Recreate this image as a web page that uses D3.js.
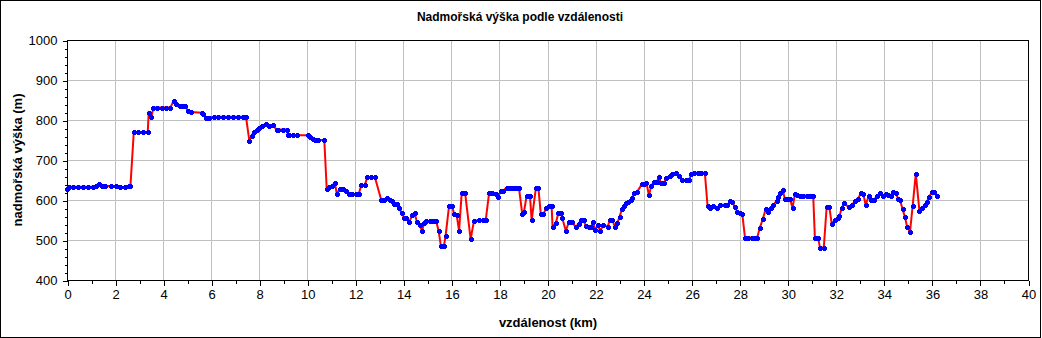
<!DOCTYPE html>
<html>
<head>
<meta charset="utf-8">
<script src="https://cdn.jsdelivr.net/npm/d3@7"></script>
<style>
  html, body { margin: 0; padding: 0; background: #fff; }
  svg { display: block; }
  text { font-family: "Liberation Sans", Arial, sans-serif; fill: #000; }
</style>
</head>
<body>
<svg id="chart" width="1042" height="338"></svg>
<script>
// Elevation profile: distance along the route (km) and elevation (m)
const distanceKm = [
  0, 0.07, 0.25, 0.44, 0.65, 0.86, 1.07, 1.2, 1.32, 1.44, 1.6, 1.85, 2.05, 2.22, 2.4, 2.57, 2.64,
  2.78, 2.96, 3.15, 3.36, 3.4, 3.51, 3.6, 3.75, 3.95, 4.13, 4.3, 4.44, 4.55, 4.72, 4.8, 4.9, 5.04, 5.16,
  5.6, 5.67, 5.79, 5.92, 6.12, 6.3, 6.51, 6.72, 6.93, 7.13, 7.34, 7.45, 7.59, 7.69, 7.78, 7.9, 7.99,
  8.1, 8.28, 8.39, 8.56, 8.73, 8.8, 9.0, 9.14, 9.21, 9.25, 9.42, 9.59, 10.05, 10.11, 10.23, 10.32,
  10.46, 10.71,
  10.81, 10.92, 11.03, 11.15, 11.23, 11.35, 11.49, 11.6, 11.72, 11.87, 12.02, 12.14, 12.25, 12.39,
  12.5, 12.64, 12.81, 13.08, 13.2, 13.32, 13.43, 13.53, 13.61, 13.75, 13.82, 13.94, 14.03, 14.12,
  14.24, 14.37, 14.47, 14.57, 14.68, 14.78, 14.86, 14.96, 15.1, 15.23, 15.37, 15.47, 15.56, 15.69,
  15.76, 15.9, 16.03,
  16.11, 16.22, 16.32, 16.43, 16.57, 16.8, 16.94, 17.15, 17.3, 17.43, 17.57, 17.7, 17.84, 17.93,
  18.06, 18.13, 18.3, 18.44, 18.58, 18.69, 18.81, 18.95, 19.02, 19.13, 19.27, 19.34, 19.52, 19.62,
  19.72, 19.83, 19.95, 20.08, 20.17, 20.21, 20.35, 20.45, 20.55, 20.62, 20.76, 20.9, 21.0, 21.17,
  21.3, 21.38, 21.5, 21.59, 21.72, 21.8, 21.91, 21.98, 22.1, 22.19, 22.33, 22.5, 22.6, 22.7, 22.81,
  22.91, 23.0, 23.1, 23.2, 23.28, 23.37, 23.46, 23.53,
  23.6, 23.74, 23.92, 24.02, 24.12, 24.22, 24.32, 24.43, 24.55, 24.64, 24.71, 24.85, 24.94, 25.09,
  25.2, 25.33, 25.47, 25.61, 25.75, 25.89, 25.99, 26.1, 26.26, 26.37, 26.55,
  26.66, 26.76, 26.9, 27.04, 27.2, 27.38, 27.49, 27.6, 27.7, 27.8, 27.9, 28.01, 28.11, 28.22, 28.36,
  28.5, 28.64, 28.73, 28.84, 28.96, 29.08, 29.16, 29.29, 29.4, 29.54, 29.6, 29.68, 29.79, 29.88,
  29.99, 30.09, 30.2, 30.3, 30.4, 30.51, 30.65, 30.79, 30.93, 31.06, 31.13, 31.27, 31.34, 31.5,
  31.62, 31.73, 31.83, 31.97, 32.08, 32.15, 32.25, 32.36, 32.53, 32.67, 32.81, 32.92, 33.04, 33.15,
  33.24, 33.38, 33.47, 33.59, 33.7, 33.84, 33.95, 34.07, 34.18, 34.29, 34.39, 34.5, 34.6, 34.67,
  34.78, 34.88, 34.97, 35.09, 35.2, 35.33, 35.48, 35.58, 35.7, 35.8, 35.88, 36.0, 36.1, 36.23
];
const elevationM = [
  627, 633, 633, 633, 633, 633, 633, 636, 640, 635, 635, 635, 635, 632, 632, 635, 635,
  770, 770, 770, 770, 817, 808, 831, 831, 831, 831, 831, 848, 840, 836, 836, 836, 823, 820,
  818, 814, 806, 806, 808, 808, 808, 808, 808, 808, 808, 808, 748, 761, 771, 775, 781,
  785, 790, 786, 787, 776, 776, 776, 776, 762, 762, 762, 762, 762, 758, 752, 750,
  750, 750,
  628, 632, 636, 643, 615, 628, 628, 623, 614, 614, 614, 615, 637, 637,
  657, 657, 658, 600, 600, 606, 600, 598, 589, 589, 581, 567, 556, 555,
  544, 562, 567, 544, 537, 522, 543, 547, 547, 547, 547, 522, 486, 486,
  511, 584, 585,
  565, 562, 523, 618, 618, 502, 548, 550, 550, 550, 618, 618, 614, 608,
  622, 622, 631, 631, 631, 631, 631, 565, 570, 610, 610, 550, 631, 631,
  565, 565, 579, 586, 586, 533, 543, 567, 567, 554, 523, 546, 546, 533,
  540, 550, 550, 535, 533, 533, 544, 525, 537, 523, 537, 533, 550, 550, 532,
  543, 558, 578, 584, 592, 594, 600, 604,
  618, 621, 639, 641, 643, 612, 635, 646, 646, 658, 643, 643, 654, 661,
  664, 667, 660, 650, 650, 650, 665, 668, 668, 668, 668,
  586, 581, 586, 580, 588, 588, 588, 597, 594, 582, 571, 567, 564, 506, 506,
  506, 506, 506, 531, 552, 577, 571, 579, 588, 598, 608, 617, 626, 602,
  602, 602, 581, 615, 612, 611, 611, 611, 611, 611, 504, 504, 481, 481,
  583, 583, 540, 550, 555, 559, 581, 592, 582, 588, 598, 602, 617, 614,
  588, 611, 601, 601, 609, 617, 611, 615, 613, 611, 621, 617, 602, 600,
  577, 557, 532, 521, 586, 666, 573, 579, 588, 596, 608, 619, 621, 611
];

// Axis ticks
const xTickValues = [0, 2, 4, 6, 8, 10, 12, 14, 16, 18, 20, 22, 24, 26, 28, 30, 32, 34, 36, 38, 40];
const yTickValues = [400, 500, 600, 700, 800, 900, 1000];

const titleText = "Nadmořská výška podle vzdálenosti";
const xLabelText = "vzdálenost (km)";
const yLabelText = "nadmořská výška (m)";

const W = 1042, H = 338;
const plot = { left: 67, right: 1028, top: 40, bottom: 280 };

const svg = d3.select("#chart");

// Outer frame
svg.append("rect")
  .attr("x", 0.5).attr("y", 0.5)
  .attr("width", W - 2).attr("height", H - 1)
  .attr("fill", "#fff").attr("stroke", "#000").attr("stroke-width", 1)
  .attr("shape-rendering", "crispEdges");

const x = d3.scaleLinear().domain([0, 40]).range([plot.left, plot.right]);
const y = d3.scaleLinear().domain([400, 1000]).range([plot.bottom, plot.top]);

// Grid lines
const grid = svg.append("g").attr("shape-rendering", "crispEdges");
grid.selectAll("line.gx")
  .data(xTickValues.filter(v => v > 0 && v < 40))
  .join("line")
  .attr("x1", d => Math.round(x(d)) + 0.5).attr("x2", d => Math.round(x(d)) + 0.5)
  .attr("y1", plot.top).attr("y2", plot.bottom)
  .attr("stroke", "#c0c0c0").attr("stroke-width", 1);
grid.selectAll("line.gy")
  .data(yTickValues.filter(v => v > 400 && v < 1000))
  .join("line")
  .attr("y1", d => Math.round(y(d)) + 0.5).attr("y2", d => Math.round(y(d)) + 0.5)
  .attr("x1", plot.left).attr("x2", plot.right)
  .attr("stroke", "#c0c0c0").attr("stroke-width", 1);

// Plot frame
svg.append("rect")
  .attr("x", plot.left + 0.5).attr("y", plot.top + 0.5)
  .attr("width", plot.right - plot.left).attr("height", plot.bottom - plot.top)
  .attr("fill", "none").attr("stroke", "#000").attr("stroke-width", 1)
  .attr("shape-rendering", "crispEdges");

// X axis: major ticks every 2 km, minor every 1 km
const xAxis = d3.axisBottom(x).tickValues(xTickValues).tickSize(5).tickPadding(4)
  .tickFormat(d3.format("d"));
const xAxisMinor = d3.axisBottom(x).tickValues(d3.range(1, 40, 2)).tickSize(3).tickFormat("");
const gx = svg.append("g").attr("transform", `translate(0.5,${plot.bottom + 0.5})`)
  .attr("shape-rendering", "crispEdges").call(xAxis);
const gxm = svg.append("g").attr("transform", `translate(0.5,${plot.bottom + 0.5})`)
  .attr("shape-rendering", "crispEdges").call(xAxisMinor);

// Y axis: major ticks every 100 m, minor every 20 m
const yAxis = d3.axisLeft(y).tickValues(yTickValues).tickSize(5).tickPadding(5)
  .tickFormat(d3.format("d"));
const yAxisMinor = d3.axisLeft(y).tickValues(d3.range(420, 1000, 20).filter(v => v % 100 !== 0))
  .tickSize(3).tickFormat("");
const gy = svg.append("g").attr("transform", `translate(${plot.left + 0.5},0.5)`)
  .attr("shape-rendering", "crispEdges").call(yAxis);
const gym = svg.append("g").attr("transform", `translate(${plot.left + 0.5},0.5)`)
  .attr("shape-rendering", "crispEdges").call(yAxisMinor);

[gx, gxm, gy, gym].forEach(g => {
  g.select(".domain").remove();
  g.selectAll(".tick line").attr("stroke", "#000");
  g.selectAll(".tick text")
    .attr("font-family", "'Liberation Sans', Arial, sans-serif")
    .attr("font-size", 13).attr("fill", "#000");
});

// Profile line and markers
const pts = distanceKm.map((d, i) => [d, elevationM[i]]);
const line = d3.line().x(d => x(d[0])).y(d => y(d[1]));

svg.append("path")
  .datum(pts)
  .attr("d", line)
  .attr("fill", "none")
  .attr("stroke", "#ff0000")
  .attr("stroke-width", 2)
  .attr("stroke-linejoin", "miter");

// Small blocky marker, snapped to the pixel grid
const marker = "M-2,-1H-1V-2H2V-1H3V2H2V3H-1V2H-2Z";
svg.append("g").attr("shape-rendering", "crispEdges").selectAll("path")
  .data(pts)
  .join("path")
  .attr("transform", d => `translate(${Math.round(x(d[0])) - 0.5},${Math.round(y(d[1])) - 0.5})`)
  .attr("d", marker)
  .attr("fill", "#0000ff");

// Titles
svg.append("text")
  .attr("x", 520).attr("y", 21)
  .attr("text-anchor", "middle")
  .attr("font-size", 12).attr("font-weight", "bold")
  .text(titleText);

svg.append("text")
  .attr("x", 548).attr("y", 327)
  .attr("text-anchor", "middle")
  .attr("font-size", 13).attr("font-weight", "bold")
  .text(xLabelText);

svg.append("text")
  .attr("transform", `translate(22,160) rotate(-90)`)
  .attr("text-anchor", "middle")
  .attr("font-size", 13).attr("font-weight", "bold")
  .text(yLabelText);
</script>
</body>
</html>
